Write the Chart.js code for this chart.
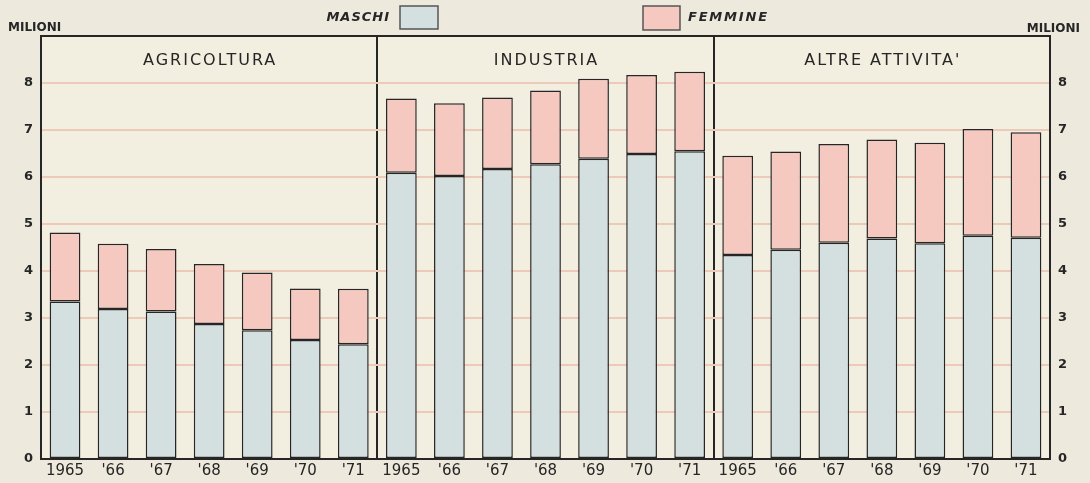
<!DOCTYPE html>
<html lang="it">
<head>
<meta charset="utf-8">
<title>Occupati per settore 1965-1971</title>
<script src="https://cdn.jsdelivr.net/npm/chart.js@4/dist/chart.umd.min.js"></script>
<style>
  html, body { margin:0; padding:0; background:#edeadd; }
  #wrap { width:1090px; height:483px; }
</style>
</head>
<body>
<div id="wrap"><canvas id="chart" width="1090" height="483"></canvas></div>
<script>
// Occupati (milioni) per settore e sesso, 1965-'71
const YEARS = ["1965", "'66", "'67", "'68", "'69", "'70", "'71"];
const SECTORS = ["AGRICOLTURA", "INDUSTRIA", "ALTRE ATTIVITA'"];
const Y_MAX = 9;

const maschiAgricoltura  = [3.35, 3.19, 3.14, 2.87, 2.74, 2.53, 2.44];
const femmineAgricoltura = [1.47, 1.39, 1.33, 1.28, 1.23, 1.10, 1.18];

const maschiIndustria  = [6.09, 6.02, 6.17, 6.27, 6.39, 6.49, 6.55];
const femmineIndustria = [1.58, 1.55, 1.52, 1.57, 1.70, 1.68, 1.69];

const maschiAltre  = [4.34, 4.45, 4.60, 4.69, 4.59, 4.75, 4.71];
const femmineAltre = [2.11, 2.09, 2.10, 2.11, 2.14, 2.27, 2.24];

const COL_M = "#d4dfe0";
const COL_F = "#f5c8c0";
const INK = "#262626";
const GRID = "#ecc9b8";
const FONT = "'DejaVu Sans', sans-serif";

const labels = [].concat(YEARS, YEARS, YEARS);

function $(sel){ return document.querySelector(sel); }

// background + text (titles, legend, units)
const decor = {
  id: "decor",
  beforeDraw(chart){
    const {ctx, chartArea:a} = chart;
    ctx.save();
    ctx.fillStyle = "#edeadd";
    ctx.fillRect(0, 0, chart.width, chart.height);
    ctx.fillStyle = "#f2eee0";
    ctx.fillRect(a.left, a.top, a.right - a.left, a.bottom - a.top);
    ctx.restore();
  },
  afterDraw(chart){
    const {ctx} = chart;
    const x = chart.scales.x;
    ctx.save();
    ctx.fillStyle = INK;
    ctx.textBaseline = "middle";

    ctx.font = `bold 12px ${FONT}`;
    ctx.textAlign = "left";
    ctx.fillText("MILIONI", 8, 28);
    ctx.textAlign = "right";
    ctx.fillText("MILIONI", 1080, 29);

    // legend
    ctx.font = `italic bold 13px ${FONT}`;
    ctx.letterSpacing = "1px";
    ctx.textAlign = "right";
    ctx.fillText("MASCHI", 390, 18);
    ctx.textAlign = "left";
    ctx.letterSpacing = "1.8px";
    ctx.fillText("FEMMINE", 688, 18);
    ctx.letterSpacing = "0px";
    ctx.lineWidth = 1.5;
    ctx.strokeStyle = "#555";
    ctx.fillStyle = COL_M;
    ctx.fillRect(400, 6, 38, 23); ctx.strokeRect(400, 6, 38, 23);
    ctx.fillStyle = COL_F;
    ctx.fillRect(643, 6, 37, 24); ctx.strokeRect(643, 6, 37, 24);

    // sector titles, centred on the middle year of each panel
    ctx.fillStyle = INK;
    ctx.font = `16px ${FONT}`;
    ctx.letterSpacing = "2px";
    ctx.textAlign = "center";
    SECTORS.forEach((s, i)=>{
      ctx.fillText(s, x.getPixelForValue(i * YEARS.length + 3) + 1, 61);
    });
    ctx.restore();
  }
};

const chart = new Chart($("#chart").getContext("2d"), {
  type: "bar",
  data: {
    labels,
    datasets: [
      {
        label: "MASCHI",
        data: [].concat(maschiAgricoltura, maschiIndustria, maschiAltre),
        backgroundColor: COL_M,
        borderColor: INK, borderWidth: 1.5, borderSkipped: false,
      },
      {
        label: "FEMMINE",
        data: [].concat(femmineAgricoltura, femmineIndustria, femmineAltre),
        backgroundColor: COL_F,
        borderColor: INK, borderWidth: 1.5, borderSkipped: false,
      },
    ]
  },
  options: {
    responsive: false,
    animation: false,
    devicePixelRatio: 1,
    layout: { padding: { top: 36, left: 0, right: 0, bottom: 0 } },
    datasets: { bar: { categoryPercentage: 1, barPercentage: 0.64 } },
    plugins: { legend: { display: false }, tooltip: { enabled: false } },
    scales: {
      x: {
        stacked: true,
        offset: true,
        afterFit: s => { s.height = 24; },
        ticks: { color: INK, font: { family: FONT, size: 15 }, padding: 3, maxRotation: 0, autoSkip: false },
        grid: {
          offset: true, drawTicks: false, lineWidth: 2,
          color: c => c.index % YEARS.length === 0 ? INK : "rgba(0,0,0,0)",
        },
        border: { display: true, color: INK, width: 2 },
      },
      y: {
        stacked: true, min: 0, max: Y_MAX,
        afterFit: s => { s.width = 41; },
        ticks: {
          stepSize: 1, color: INK, padding: 8,
          font: { family: FONT, size: 13, weight: "bold" },
          callback: v => v === Y_MAX ? "" : v,
        },
        grid: {
          drawTicks: false, lineWidth: 2,
          color: c => (c.tick && (c.tick.value === Y_MAX || c.tick.value === 0)) ? INK : GRID,
        },
        border: { display: true, color: INK, width: 2 },
      },
      y2: {
        position: "right", min: 0, max: Y_MAX,
        afterFit: s => { s.width = 40; },
        ticks: {
          stepSize: 1, color: INK, padding: 8,
          font: { family: FONT, size: 13, weight: "bold" },
          callback: v => v === Y_MAX ? "" : v,
        },
        grid: { display: false, drawTicks: false },
        border: { display: true, color: INK, width: 2 },
      },
    }
  },
  plugins: [decor]
});
</script>
</body>
</html>
